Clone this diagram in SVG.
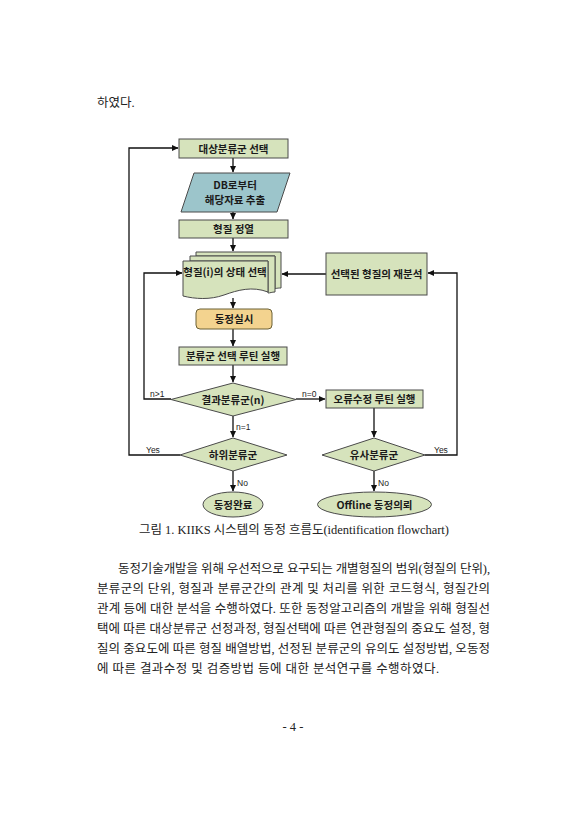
<svg xmlns="http://www.w3.org/2000/svg" width="586" height="830" viewBox="0 0 586 830">
<defs>
<marker id="ah" markerWidth="7" markerHeight="7" refX="6" refY="3.5" orient="auto" markerUnits="userSpaceOnUse">
<path d="M0,0.5 L6.5,3.5 L0,6.5 z" fill="#111"/>
</marker>
<style>
.pg{font-family:"Liberation Serif","Noto Sans CJK KR",serif;font-size:12.5px;fill:#222}
.nd{font-family:"Noto Sans CJK KR","Liberation Sans",sans-serif;font-size:10.5px;font-weight:bold;fill:#1a1a1a;text-anchor:middle}
.lb{font-family:"Liberation Sans","Noto Sans CJK KR",sans-serif;font-size:8.5px;fill:#1a1a1a}
.g{fill:#d6e3bc;stroke:#4a4a4a;stroke-width:1}
.c{fill:none;stroke:#111;stroke-width:1.3}
</style>
</defs>
<rect width="586" height="830" fill="#fff"/>
<text class="pg" x="97" y="107">하였다.</text>

<g id="connectors">
<line class="c" x1="233" y1="158" x2="233" y2="172" marker-end="url(#ah)"/>
<line class="c" x1="233" y1="212" x2="233" y2="219" marker-end="url(#ah)"/>
<line class="c" x1="233" y1="238" x2="233" y2="251" marker-end="url(#ah)"/>
<line class="c" x1="233" y1="298" x2="233" y2="308" marker-end="url(#ah)"/>
<line class="c" x1="233" y1="329" x2="233" y2="346" marker-end="url(#ah)"/>
<line class="c" x1="233" y1="365" x2="233" y2="382" marker-end="url(#ah)"/>
<line class="c" x1="233" y1="416" x2="233" y2="437" marker-end="url(#ah)"/>
<line class="c" x1="233" y1="471" x2="233" y2="491" marker-end="url(#ah)"/>
<polyline class="c" points="171,399 144,399 144,273 182,273" marker-end="url(#ah)"/>
<line class="c" x1="296" y1="399" x2="325" y2="399" marker-end="url(#ah)"/>
<polyline class="c" points="180,455 129,455 129,148 178,148" marker-end="url(#ah)"/>
<line class="c" x1="374" y1="408" x2="374" y2="437" marker-end="url(#ah)"/>
<line class="c" x1="374" y1="471" x2="374" y2="491" marker-end="url(#ah)"/>
<polyline class="c" points="425,455 457,455 457,273 428,273" marker-end="url(#ah)"/>
<line class="c" x1="326" y1="274" x2="282" y2="274" marker-end="url(#ah)"/>
<text class="lb" x="150" y="397">n&gt;1</text>
<text class="lb" x="302" y="397">n=0</text>
<text class="lb" x="236" y="430">n=1</text>
<text class="lb" x="146" y="453">Yes</text>
<text class="lb" x="237" y="486">No</text>
<text class="lb" x="434" y="453">Yes</text>
<text class="lb" x="378" y="486">No</text>
</g>

<g id="n1">
<rect class="g" x="179" y="139" width="109" height="19"/>
<text class="nd" x="233.5" y="152.5">대상분류군 선택</text>
</g>
<g id="n2">
<polygon points="194,173 290,173 277,212 181,212" fill="#9cc5cb" stroke="#4a4a4a" stroke-width="1"/>
<text class="nd" x="235" y="189">DB로부터</text>
<text class="nd" x="235" y="204">해당자료 추출</text>
</g>
<g id="n3">
<rect class="g" x="179" y="220" width="109" height="18"/>
<text class="nd" x="233.5" y="233">형질 정열</text>
</g>
<g id="n4">
<path class="g" d="M196,252 H281 V288 C276,288 274,289 275,289 V256 H196 Z"/>
<path class="g" d="M190,256 H275 V292 C272,292 270,293 268,293 V261 H190 Z"/>
<path class="g" d="M183,261 H268 V292 C252,286 238,290 224,295 C210,300 195,299 183,296 Z"/>
<text class="nd" x="225" y="276">형질(i)의 상태 선택</text>
</g>
<g id="n5">
<rect class="g" x="326" y="253" width="101" height="42"/>
<text class="nd" x="376.5" y="278">선택된 형질의 재분석</text>
</g>
<g id="n6">
<rect x="196" y="309" width="76" height="20" rx="4" fill="#f3d38f" stroke="#6b6035" stroke-width="1"/>
<text class="nd" x="234" y="323">동정실시</text>
</g>
<g id="n7">
<rect class="g" x="179" y="347" width="108" height="18"/>
<text class="nd" x="233" y="360">분류군 선택 루틴 실행</text>
</g>
<g id="n8">
<polygon class="g" points="233,383 296,399.5 233,416 171,399.5"/>
<text class="nd" x="233" y="403.5">결과분류군(n)</text>
</g>
<g id="n9">
<rect class="g" x="326" y="390" width="97" height="18"/>
<text class="nd" x="374.5" y="403">오류수정 루틴 실행</text>
</g>
<g id="n10">
<polygon class="g" points="233,438 287,455 233,471 180,455"/>
<text class="nd" x="233" y="459">하위분류군</text>
</g>
<g id="n11">
<polygon class="g" points="374,438 425,455 374,471 322,455"/>
<text class="nd" x="374" y="459">유사분류군</text>
</g>
<g id="n12">
<ellipse class="g" cx="233" cy="504.5" rx="30" ry="12.5"/>
<text class="nd" x="233" y="508.5">동정완료</text>
</g>
<g id="n13">
<ellipse class="g" cx="374.5" cy="504.5" rx="57" ry="12.5"/>
<text class="nd" x="374.5" y="508.5">Offline 동정의뢰</text>
</g>

<text class="pg" x="139" y="534" textLength="310" lengthAdjust="spacing">그림 1. KIIKS 시스템의 동정 흐름도(identification flowchart)</text>

<g class="body">
<text class="pg" x="118" y="573" textLength="372" lengthAdjust="spacing">동정기술개발을 위해 우선적으로 요구되는 개별형질의 범위(형질의 단위),</text>
<text class="pg" x="97" y="593" textLength="393" lengthAdjust="spacing">분류군의 단위, 형질과 분류군간의 관계 및 처리를 위한 코드형식, 형질간의</text>
<text class="pg" x="97" y="613" textLength="393" lengthAdjust="spacing">관계 등에 대한 분석을 수행하였다. 또한 동정알고리즘의 개발을 위해 형질선</text>
<text class="pg" x="97" y="633" textLength="393" lengthAdjust="spacing">택에 따른 대상분류군 선정과정, 형질선택에 따른 연관형질의 중요도 설정, 형</text>
<text class="pg" x="97" y="653" textLength="393" lengthAdjust="spacing">질의 중요도에 따른 형질 배열방법, 선정된 분류군의 유의도 설정방법, 오동정</text>
<text class="pg" x="97" y="673" textLength="342" lengthAdjust="spacing">에 따른 결과수정 및 검증방법 등에 대한 분석연구를 수행하였다.</text>
</g>

<text class="pg" x="293" y="731" text-anchor="middle">- 4 -</text>
</svg>
